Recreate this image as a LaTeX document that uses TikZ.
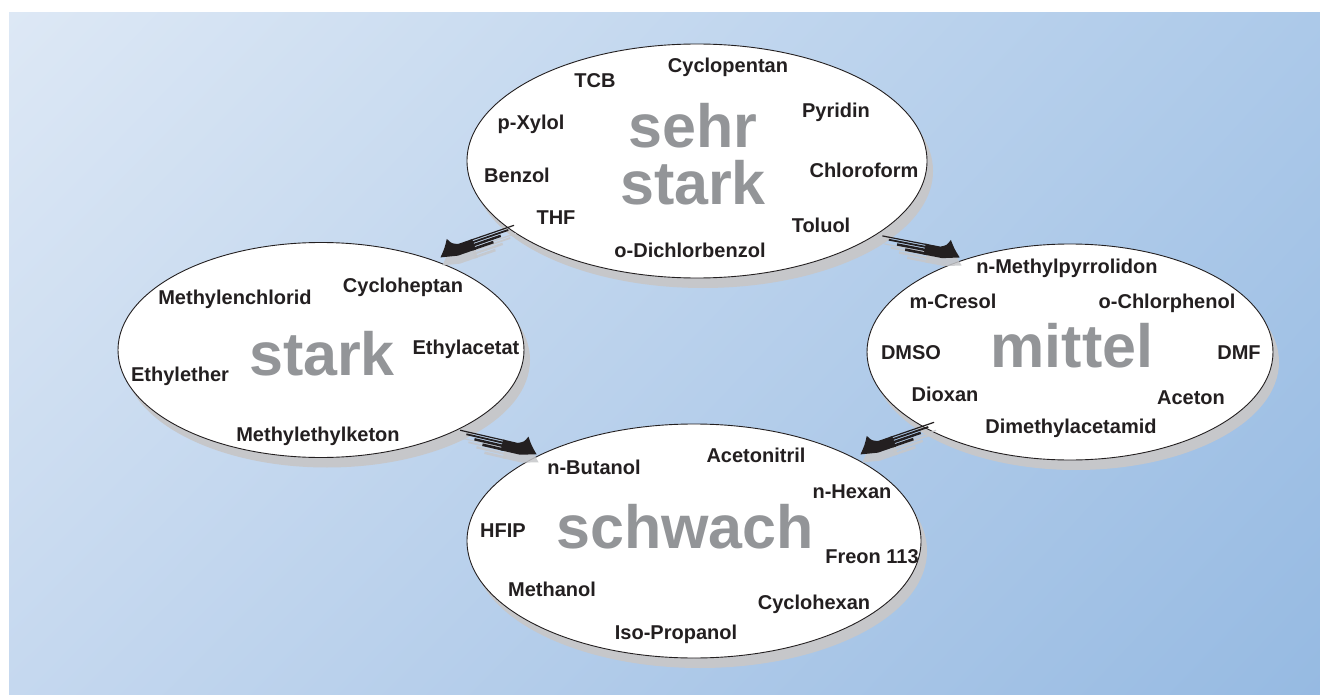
\documentclass[tikz,border=0pt]{standalone}
\usepackage{fontspec}
\setmainfont{Liberation Sans}
\usetikzlibrary{shapes.geometric,shadows,calc,shadings}
\definecolor{bgUL}{RGB}{221,232,245}
\definecolor{bgUR}{RGB}{172,201,233}
\definecolor{bgLL}{RGB}{197,216,239}
\definecolor{bgLR}{RGB}{150,186,226}
\definecolor{shd}{RGB}{198,199,202}
\definecolor{bigc}{RGB}{147,149,152}
\definecolor{ink}{RGB}{35,31,32}
\tikzset{
  pics/marrow/.style={code={
    \path[pic actions] (-36,-5.5) -- (-21,-5.5) .. controls (-15,-8) .. (-12,-14)
      .. controls (-7,-6) .. (0,1.5) -- (-17,5.5) -- (-36,5.5) -- cycle;
    \path[pic actions] (-80,-5.5) rectangle (-33,-4.3);
    \path[pic actions] (-73,-3.3) rectangle (-33,-1.5);
    \path[pic actions] (-64,-0.5) rectangle (-33,1.9);
    \path[pic actions] (-55,2.9) rectangle (-33,5.5);
  }}
}
\begin{document}
\begin{tikzpicture}[x=1pt,y=-1pt,
  blob/.style={ellipse, draw=ink, line width=0.9pt, fill=white, inner sep=0pt,
    drop shadow={shadow xshift=6pt, shadow yshift=-10pt, fill=shd, opacity=1}},
  lbl/.style={font=\bfseries\fontsize{20}{24}\selectfont, text=ink, anchor=base, inner sep=0pt},
  bigword/.style={font=\bfseries\fontsize{61}{61}\selectfont, text=bigc, anchor=base, inner sep=0pt},
  arr/.style={fill=ink},
  arrshadow/.style={fill=shd, opacity=0.85}]
\useasboundingbox (0,0) rectangle (1320,695);
\fill[white] (0,0) rectangle (1320,695);
\shade[upper left=bgUL, upper right=bgUR, lower left=bgLL, lower right=bgLR] (9,13) rectangle (1320,695);

% ellipses
\node[blob, minimum width=460pt, minimum height=234pt] (vs) at (697,161) {};
\node[blob, minimum width=406pt, minimum height=215pt] (st) at (321,350) {};
\node[blob, minimum width=406pt, minimum height=216pt] (mi) at (1070,352) {};
\node[blob, minimum width=454pt, minimum height=234pt] (sw) at (694,541) {};

% arrows
\coordinate (a1) at (440,256);
\coordinate (a2) at (960,256);
\coordinate (a3) at (537,453);
\coordinate (a4) at (860,453);
\pic[arrshadow, rotate=-161, yscale=-1] at ($(a1)+(2,8)$) {marrow};
\pic[arrshadow, rotate=-11] at ($(a2)+(2,8)$) {marrow};
\pic[arrshadow, rotate=-13] at ($(a3)+(2,8)$) {marrow};
\pic[arrshadow, rotate=-161, yscale=-1] at ($(a4)+(2,8)$) {marrow};
\pic[arr, rotate=-161, yscale=-1] at (a1) {marrow};
\pic[arr, rotate=-11] at (a2) {marrow};
\pic[arr, rotate=-13] at (a3) {marrow};
\pic[arr, rotate=-161, yscale=-1] at (a4) {marrow};

% sehr stark
\node[bigword] (vs1) at (693,148) {sehr};
\node[bigword] (vs2) at (693,205) {stark};
\node[lbl] (t1) at (595,88) {TCB};
\node[lbl] (t2) at (728,73) {Cyclopentan};
\node[lbl] (t3) at (531,130) {p-Xylol};
\node[lbl] (t4) at (836,118) {Pyridin};
\node[lbl] (t5) at (517,183) {Benzol};
\node[lbl] (t6) at (864,178) {Chloroform};
\node[lbl] (t7) at (556,225) {THF};
\node[lbl] (t8) at (821,233) {Toluol};
\node[lbl] (t9) at (690,258) {o-Dichlorbenzol};

% stark
\node[bigword] (st1) at (322,375) {stark};
\node[lbl] (l1) at (235,304) {Methylenchlorid};
\node[lbl] (l2) at (403,292) {Cycloheptan};
\node[lbl] (l3) at (466,354) {Ethylacetat};
\node[lbl] (l4) at (180,381) {Ethylether};
\node[lbl] (l5) at (318,441) {Methylethylketon};

% mittel
\node[bigword] (mi1) at (1072,367) {mittel};
\node[lbl] (r1) at (1067,273) {n-Methylpyrrolidon};
\node[lbl] (r2) at (953,308) {m-Cresol};
\node[lbl] (r3) at (1167,308) {o-Chlorphenol};
\node[lbl] (r4) at (911,359) {DMSO};
\node[lbl] (r5) at (1239,359) {DMF};
\node[lbl] (r6) at (945,401) {Dioxan};
\node[lbl] (r7) at (1191,404) {Aceton};
\node[lbl] (r8) at (1071,433) {Dimethylacetamid};

% schwach
\node[bigword] (sw1) at (685,548) {schwach};
\node[lbl] (b1) at (594,474) {n-Butanol};
\node[lbl] (b2) at (756,462) {Acetonitril};
\node[lbl] (b3) at (852,498) {n-Hexan};
\node[lbl] (b4) at (503,537) {HFIP};
\node[lbl] (b5) at (872,563) {Freon 113};
\node[lbl] (b6) at (552,596) {Methanol};
\node[lbl] (b7) at (814,609) {Cyclohexan};
\node[lbl] (b8) at (676,639) {Iso-Propanol};
\end{tikzpicture}
\end{document}
